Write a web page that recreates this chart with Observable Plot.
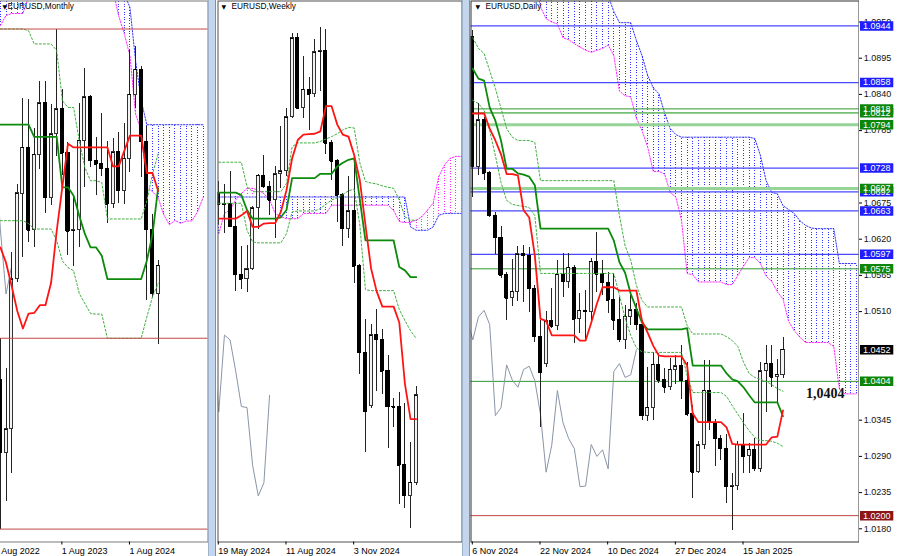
<!DOCTYPE html>
<html><head><meta charset="utf-8">
<script src="https://cdn.jsdelivr.net/npm/d3@7"></script>
<script src="https://cdn.jsdelivr.net/npm/@observablehq/plot@0.6"></script>
<style>
html,body{margin:0;padding:0;background:#fff;}
#chart{position:relative;width:900px;height:556px;overflow:hidden;background:#fff;}
.sep{position:absolute;top:0;height:556px;background:#c3d6ee;box-sizing:border-box;border-left:1px solid #9fb3cc;border-right:1px solid #7f8fa6;}
</style></head><body><div id="chart"></div>
<script>
// ---------------- MONTHLY (Sep 2022 .. Jan 2025) ----------------
const monthlyOpen  = [1.0054,0.9801,0.9883,1.0405,1.0702,1.0862,1.0576,1.0839,1.1018,1.0689,1.0909,1.0997,1.0843,1.0573,1.0575,1.0888,1.1039,1.0818,1.0805,1.0790,1.0666,1.0848,1.0713,1.0825,1.1047,1.1135,1.0884,1.0577,1.0354];
const monthlyHigh  = [1.0198,1.0094,1.0497,1.0736,1.1033,1.1032,1.0930,1.1095,1.1092,1.1012,1.1276,1.1065,1.0882,1.0695,1.1017,1.1140,1.1046,1.0898,1.0981,1.0885,1.0895,1.0916,1.0948,1.1202,1.1214,1.1144,1.0937,1.0630,1.0471];
const monthlyLow   = [0.9536,0.9632,0.9730,1.0393,1.0482,1.0533,1.0516,1.0788,1.0635,1.0662,1.0834,1.0766,1.0488,1.0448,1.0517,1.0723,1.0795,1.0695,1.0762,1.0601,1.0650,1.0668,1.0666,1.0778,1.1001,1.0761,1.0333,1.0343,1.0178];
const monthlyClose = [0.9802,0.9884,1.0405,1.0705,1.0863,1.0576,1.0839,1.1018,1.0689,1.0909,1.0997,1.0843,1.0573,1.0575,1.0888,1.1039,1.0818,1.0805,1.0790,1.0666,1.0848,1.0713,1.0825,1.1047,1.1135,1.0884,1.0577,1.0354,1.0452];
const monthlyTenkan = [1.0516,1.0463,1.0382,1.0295,1.0234,1.0286,1.0288,1.0315,1.0315,1.0393,1.0574,1.0727,1.0877,1.0864,1.0864,1.0864,1.0864,1.0864,1.0864,1.0864,1.0798,1.0798,1.0852,1.0905,1.0905,1.0905,1.0775,1.0775,1.0713];
const monthlyKijun  = [1.0943,1.0943,1.0943,1.0943,1.0943,1.0943,1.0901,1.0901,1.0901,1.0901,1.0901,1.0725,1.0725,1.0696,1.0626,1.0563,1.0516,1.0516,1.0487,1.0406,1.0406,1.0406,1.0406,1.0406,1.0406,1.0406,1.0470,1.0560,1.0722];
const monthlyUpper  = [1.1276,1.1276,1.1276,1.1276,1.1276,1.1270,1.1224,1.1224,1.1224,1.1224,1.1201,1.1027,1.1003,1.1003,1.0887,1.0794,1.0748,1.0748,1.0742,1.0615,1.0615,1.0615,1.0615,1.0615,1.0615,1.0615,1.0678,1.0771,1.0841];
const monthlyLower  = [1.0609,1.0609,1.0609,1.0609,1.0609,1.0599,1.0580,1.0580,1.0580,1.0580,1.0539,1.0469,1.0446,1.0435,1.0356,1.0321,1.0286,1.0284,1.0284,1.0200,1.0200,1.0200,1.0200,1.0200,1.0200,1.0200,1.0274,1.0344,1.0390];
const monthlySpanA  = [1.1288,1.1323,1.1330,1.1330,1.1330,1.1390,1.1450,1.1450,1.1450,1.1450,1.1450,1.1450,1.1450,1.1450,1.1450,1.1450,1.1450,1.1450,1.1450,1.1450,1.1410,1.1322,1.1259,1.1183,1.0980,1.0922,1.0727,1.0710,1.0690,1.0630,1.0595,1.0610,1.0600,1.0608,1.0608,1.0640,1.0690];
const monthlySpanB  = [1.1500,1.1500,1.1500,1.1500,1.1500,1.1500,1.1500,1.1500,1.1500,1.1500,1.1500,1.1500,1.1500,1.1500,1.1500,1.1500,1.1500,1.1500,1.1500,1.1500,1.1500,1.1500,1.1398,1.1351,1.1166,1.1027,1.0943,1.0943,1.0943,1.0943,1.0943,1.0943,1.0943,1.0943,1.0943,1.0943,1.0943];
const monthlyLevels = [1.1276,1.0200,0.9536];
const monthlyTicks = [-1,11,23];
const monthlyTickLabels = ["1 Aug 2022","1 Aug 2023","1 Aug 2024"];

// ---------------- WEEKLY (19 May 2024 .. 19 Jan 2025) ----------------
const weeklyOpen  = [1.0871,1.0847,1.0848,1.0801,1.0702,1.0693,1.0713,1.0840,1.0907,1.0884,1.0856,1.0910,1.0916,1.1028,1.1192,1.1047,1.1085,1.1076,1.1163,1.1165,1.0974,1.0937,1.0867,1.0797,1.0833,1.0720,1.0540,1.0430,1.0577,1.0567,1.0502,1.0429,1.0427,1.0307,1.0244,1.0271];
const weeklyHigh  = [1.0895,1.0889,1.0916,1.0852,1.0761,1.0762,1.0844,1.0910,1.0948,1.0895,1.0926,1.1009,1.1047,1.1201,1.1202,1.1155,1.1111,1.1189,1.1214,1.1209,1.0979,1.0940,1.0870,1.0905,1.0937,1.0723,1.0609,1.0599,1.0630,1.0588,1.0534,1.0446,1.0458,1.0436,1.0355,1.0471];
const weeklyLow   = [1.0805,1.0788,1.0800,1.0668,1.0672,1.0666,1.0710,1.0795,1.0880,1.0825,1.0778,1.0881,1.0906,1.1026,1.1044,1.1026,1.1001,1.1069,1.1082,1.0951,1.0897,1.0811,1.0761,1.0777,1.0683,1.0496,1.0334,1.0425,1.0461,1.0453,1.0343,1.0385,1.0226,1.0218,1.0177,1.0266];
const weeklyClose = [1.0847,1.0848,1.0801,1.0702,1.0693,1.0713,1.0840,1.0907,1.0884,1.0856,1.0910,1.0916,1.1028,1.1192,1.1047,1.1085,1.1076,1.1163,1.1165,1.0974,1.0937,1.0867,1.0797,1.0833,1.0720,1.0540,1.0418,1.0577,1.0567,1.0502,1.0429,1.0427,1.0307,1.0244,1.0271,1.0452];
const weeklyTenkan = [1.0818,1.0818,1.0818,1.0818,1.0825,1.0834,1.0801,1.0801,1.0808,1.0809,1.0809,1.0832,1.0877,1.0943,1.0981,1.0992,1.0993,1.0994,1.0999,1.1051,1.1051,1.1013,1.0992,1.0988,1.0950,1.0898,1.0805,1.0715,1.0667,1.0636,1.0636,1.0636,1.0603,1.0476,1.0403,1.0403];
const weeklyKijun  = [1.0872,1.0872,1.0872,1.0872,1.0867,1.0836,1.0818,1.0818,1.0818,1.0818,1.0818,1.0821,1.0836,1.0902,1.0902,1.0902,1.0902,1.0902,1.0911,1.0911,1.0911,1.0926,1.0934,1.0940,1.0943,1.0858,1.0773,1.0773,1.0773,1.0773,1.0773,1.0773,1.0718,1.0711,1.0697,1.0697];
const weeklyUpper  = [1.0935,1.0935,1.0935,1.0935,1.0935,1.0884,1.0874,1.0874,1.0874,1.0874,1.0874,1.0874,1.0891,1.0967,1.0975,1.0975,1.0975,1.0975,1.0978,1.0983,1.0988,1.0994,1.1002,1.1007,1.1006,1.0934,1.0895,1.0892,1.0890,1.0886,1.0883,1.0881,1.0857,1.0822,1.0815,1.0815];
const weeklyLower  = [1.0850,1.0850,1.0850,1.0850,1.0850,1.0794,1.0770,1.0768,1.0768,1.0768,1.0768,1.0768,1.0787,1.0832,1.0834,1.0834,1.0834,1.0834,1.0839,1.0848,1.0857,1.0861,1.0868,1.0876,1.0879,1.0805,1.0671,1.0669,1.0669,1.0669,1.0669,1.0669,1.0630,1.0607,1.0586,1.0570];
const weeklySpanA  = [1.0787,1.0829,1.0836,1.0857,1.0870,1.0881,1.0881,1.0877,1.0870,1.0857,1.0829,1.0822,1.0818,1.0818,1.0818,1.0829,1.0829,1.0829,1.0829,1.0829,1.0846,1.0846,1.0846,1.0846,1.0846,1.0846,1.0846,1.0846,1.0846,1.0846,1.0846,1.0835,1.0812,1.0810,1.0811,1.0815,1.0822,1.0836,1.0850,1.0905,1.0929,1.0943,1.0947,1.0947];
const weeklySpanB  = [1.0863,1.0863,1.0863,1.0863,1.0863,1.0863,1.0863,1.0863,1.0863,1.0863,1.0863,1.0863,1.0863,1.0863,1.0863,1.0863,1.0863,1.0863,1.0863,1.0863,1.0863,1.0863,1.0863,1.0863,1.0863,1.0863,1.0863,1.0863,1.0863,1.0863,1.0863,1.0863,1.0863,1.0863,1.0801,1.0794,1.0794,1.0794,1.0801,1.0825,1.0829,1.0829,1.0829,1.0829];
const weeklyTicks = [0,12,24];
const weeklyTickLabels = ["19 May 2024","11 Aug 2024","3 Nov 2024"];

// ---------------- DAILY (6 Nov 2024 .. 24 Jan 2025) ----------------
const dailyOpen  = [1.0927,1.0730,1.0801,1.0720,1.0656,1.0622,1.0565,1.0530,1.0540,1.0597,1.0595,1.0545,1.0472,1.0430,1.0495,1.0488,1.0566,1.0555,1.0577,1.0498,1.0511,1.0510,1.0586,1.0567,1.0554,1.0527,1.0497,1.0467,1.0502,1.0512,1.0490,1.0352,1.0364,1.0429,1.0406,1.0395,1.0422,1.0427,1.0405,1.0354,1.0266,1.0307,1.0390,1.0341,1.0317,1.0302,1.0244,1.0245,1.0308,1.0290,1.0300,1.0271,1.0419,1.0431,1.0410,1.0414];
const dailyHigh  = [1.0937,1.0826,1.0805,1.0723,1.0660,1.0640,1.0569,1.0589,1.0609,1.0610,1.0608,1.0550,1.0497,1.0510,1.0545,1.0588,1.0599,1.0598,1.0580,1.0537,1.0542,1.0590,1.0630,1.0588,1.0570,1.0568,1.0532,1.0519,1.0534,1.0522,1.0496,1.0425,1.0448,1.0446,1.0423,1.0438,1.0444,1.0458,1.0433,1.0367,1.0312,1.0436,1.0436,1.0346,1.0322,1.0324,1.0264,1.0313,1.0355,1.0310,1.0317,1.0433,1.0458,1.0458,1.0437,1.0471];
const dailyLow   = [1.0683,1.0717,1.0709,1.0653,1.0596,1.0560,1.0496,1.0517,1.0525,1.0524,1.0509,1.0463,1.0334,1.0425,1.0484,1.0481,1.0532,1.0545,1.0461,1.0476,1.0466,1.0497,1.0539,1.0534,1.0507,1.0481,1.0463,1.0453,1.0489,1.0481,1.0344,1.0343,1.0344,1.0401,1.0385,1.0390,1.0400,1.0377,1.0350,1.0226,1.0264,1.0300,1.0329,1.0274,1.0284,1.0218,1.0177,1.0238,1.0264,1.0264,1.0267,1.0266,1.0357,1.0394,1.0372,1.0408];
const dailyClose = [1.0730,1.0801,1.0720,1.0656,1.0622,1.0565,1.0530,1.0540,1.0597,1.0595,1.0545,1.0472,1.0418,1.0495,1.0488,1.0566,1.0555,1.0577,1.0498,1.0511,1.0510,1.0586,1.0567,1.0554,1.0527,1.0497,1.0467,1.0502,1.0512,1.0490,1.0352,1.0364,1.0429,1.0406,1.0395,1.0422,1.0427,1.0405,1.0354,1.0266,1.0307,1.0390,1.0341,1.0317,1.0302,1.0244,1.0245,1.0308,1.0290,1.0300,1.0271,1.0419,1.0431,1.0410,1.0414,1.0452];
const dailyTenkan = [1.0811,1.0811,1.0811,1.0788,1.0770,1.0749,1.0719,1.0719,1.0717,1.0664,1.0653,1.0595,1.0499,1.0496,1.0474,1.0474,1.0474,1.0474,1.0474,1.0466,1.0466,1.0493,1.0522,1.0547,1.0547,1.0547,1.0542,1.0542,1.0542,1.0542,1.0496,1.0478,1.0458,1.0443,1.0442,1.0442,1.0442,1.0442,1.0428,1.0355,1.0342,1.0342,1.0342,1.0342,1.0342,1.0334,1.0309,1.0308,1.0308,1.0308,1.0308,1.0308,1.0308,1.0319,1.0320,1.0360];
const dailyKijun  = [1.0879,1.0864,1.0861,1.0820,1.0800,1.0770,1.0727,1.0727,1.0720,1.0718,1.0715,1.0702,1.0636,1.0636,1.0636,1.0636,1.0636,1.0636,1.0636,1.0636,1.0636,1.0636,1.0636,1.0636,1.0636,1.0618,1.0585,1.0569,1.0537,1.0515,1.0493,1.0483,1.0483,1.0483,1.0483,1.0483,1.0483,1.0483,1.0485,1.0428,1.0428,1.0428,1.0428,1.0428,1.0428,1.0416,1.0407,1.0404,1.0395,1.0383,1.0372,1.0372,1.0372,1.0372,1.0372,1.0351];
const dailyUpper  = [1.0926,1.0910,1.0902,1.0876,1.0849,1.0819,1.0788,1.0775,1.0770,1.0770,1.0770,1.0767,1.0709,1.0709,1.0709,1.0709,1.0709,1.0709,1.0709,1.0709,1.0709,1.0709,1.0709,1.0709,1.0709,1.0709,1.0656,1.0610,1.0588,1.0550,1.0527,1.0517,1.0517,1.0517,1.0517,1.0517,1.0517,1.0517,1.0489,1.0476,1.0476,1.0476,1.0476,1.0476,1.0476,1.0472,1.0466,1.0457,1.0433,1.0416,1.0410,1.0407,1.0404,1.0399,1.0393,1.0389];
const dailyLower  = [1.0831,1.0826,1.0816,1.0785,1.0747,1.0706,1.0679,1.0673,1.0671,1.0670,1.0668,1.0656,1.0568,1.0568,1.0568,1.0568,1.0568,1.0568,1.0568,1.0568,1.0568,1.0568,1.0568,1.0568,1.0568,1.0568,1.0535,1.0500,1.0474,1.0455,1.0449,1.0448,1.0448,1.0448,1.0448,1.0448,1.0448,1.0448,1.0413,1.0387,1.0387,1.0387,1.0387,1.0387,1.0387,1.0381,1.0367,1.0354,1.0341,1.0329,1.0319,1.0314,1.0314,1.0313,1.0310,1.0305];
const dailySpanA  = [1.1010,1.1010,1.1010,1.1010,1.1010,1.1010,1.1010,1.1010,1.1010,1.1010,1.1010,1.1010,1.0973,1.0955,1.0950,1.0947,1.0926,1.0923,1.0917,1.0912,1.0907,1.0904,1.0907,1.0910,1.0915,1.0899,1.0845,1.0838,1.0836,1.0804,1.0785,1.0760,1.0723,1.0723,1.0719,1.0691,1.0684,1.0649,1.0568,1.0566,1.0555,1.0555,1.0555,1.0555,1.0555,1.0551,1.0551,1.0565,1.0579,1.0592,1.0592,1.0583,1.0564,1.0556,1.0540,1.0529,1.0495,1.0481,1.0471,1.0463,1.0463,1.0463,1.0463,1.0463,1.0457,1.0392,1.0385,1.0385,1.0385];
const dailySpanB  = [1.1050,1.1050,1.1050,1.1050,1.1050,1.1050,1.1050,1.1050,1.1050,1.1050,1.1050,1.1050,1.0990,1.0990,1.0990,1.0990,1.0990,1.0990,1.0990,1.0990,1.0990,1.0990,1.0990,1.0990,1.0990,1.0966,1.0949,1.0949,1.0949,1.0922,1.0899,1.0869,1.0850,1.0841,1.0812,1.0788,1.0779,1.0775,1.0775,1.0775,1.0775,1.0775,1.0775,1.0775,1.0775,1.0775,1.0775,1.0775,1.0775,1.0775,1.0773,1.0747,1.0709,1.0691,1.0689,1.0671,1.0665,1.0659,1.0648,1.0641,1.0637,1.0636,1.0636,1.0636,1.0636,1.0583,1.0583,1.0583,1.0583];
const dailyTicks = [0,12,24,36,48];
const dailyTickLabels = ["6 Nov 2024","22 Nov 2024","10 Dec 2024","27 Dec 2024","15 Jan 2025"];
const dailyLevels = [1.0944,1.0858,1.0818,1.0812,1.0794,1.0728,1.0697,1.0692,1.0663,1.0597,1.0575,1.0404,1.0200];
const dailyLevelKinds = ["blue","blue","green","midgreen","lightgreen","blue","lightgreen","blue","blue","blue","green","green","red"];
const priceLabels = [1.0944,1.0858,1.0818,1.0812,1.0794,1.0728,1.0692,1.0697,1.0663,1.0597,1.0575,1.0452,1.0404,1.0200];
const priceLabelKinds = ["blue","blue","green","green","green","blue","blue","green","blue","blue","green","last","green","red"];
// axis ticks whose labels are not hidden under a price box
const priceTicks = [1.0180,1.0235,1.0290,1.0345,1.0510,1.0565,1.0620,1.0675,1.0785,1.0840,1.0895,1.0950];
const annotation = {text: "1,0404", value: 1.0386, bar: 62.5};

// ---------------- drawing ----------------
const FONT = "'Liberation Sans', Arial, sans-serif";
const BLUE = "#3434ff", MAGENTA = "#ff2cff";
const chart = document.getElementById("chart");

function candles(O,H,L,C){ return O.map((o,i)=>({i, o, h:H[i], l:L[i], c:C[i]})); }
function series(a){ return a.map((v,i)=>({i, v})); }

function ichimoku(cfg){
  const cl = cfg.spanA.map((a,i)=>({i, a, b: cfg.spanB[i]}));
  const cd = candles(cfg.O,cfg.H,cfg.L,cfg.C);
  const up = cd.filter(d=>d.c>=d.o), dn = cd.filter(d=>d.c<d.o);
  const chik = cfg.C.map((c,i)=>({x:i-26, y:c})).filter(d=>d.x>=-1);
  const hw = 0.27;
  const crisp = {shapeRendering:"crispEdges", clip:true};
  return {
    back: [
      Plot.ruleX(cl.filter(d=>d.b>=d.a), {x:"i", y1:"a", y2:"b", stroke:BLUE, strokeWidth:1, strokeDasharray:"1,1.6", ...crisp}),
      Plot.ruleX(cl.filter(d=>d.a>d.b), {x:"i", y1:"a", y2:"b", stroke:MAGENTA, strokeWidth:1, strokeDasharray:"1,1.6", ...crisp}),
      Plot.line(cl, {x:"i", y:"b", stroke:BLUE, strokeWidth:1, strokeDasharray:"1.5,1.5", clip:true}),
      Plot.line(cl, {x:"i", y:"a", stroke:MAGENTA, strokeWidth:1, strokeDasharray:"1.5,1.5", clip:true})
    ],
    candles: [
      Plot.line(chik, {x:"x", y:"y", stroke:"#8a95a8", strokeWidth:1, clip:true}),
      Plot.ruleX(cd, {x:"i", y1:"l", y2:"h", stroke:"#222", strokeWidth:1, ...crisp}),
      Plot.rect(up, {x1:d=>d.i-hw, x2:d=>d.i+hw, y1:"o", y2:"c", fill:"#f2f2f2", stroke:"#333", strokeWidth:1, ...crisp}),
      Plot.rect(dn, {x1:d=>d.i-hw, x2:d=>d.i+hw, y1:"o", y2:"c", fill:"#000", stroke:"#000", strokeWidth:1, ...crisp}),
      Plot.ruleY(cd, {x1:d=>d.i-hw, x2:d=>d.i+hw, y:"c", stroke:"#000", strokeWidth:1, ...crisp})
    ],
    lines: [
      Plot.line(series(cfg.upper), {x:"i", y:"v", stroke:"#3faf3f", strokeWidth:1, strokeDasharray:"2,2", clip:true}),
      Plot.line(series(cfg.lower), {x:"i", y:"v", stroke:"#3faf3f", strokeWidth:1, strokeDasharray:"2,2", clip:true}),
      Plot.line(series(cfg.kijun), {x:"i", y:"v", stroke:"#0b8a0b", strokeWidth:1.8, clip:true}),
      Plot.line(series(cfg.tenkan), {x:"i", y:"v", stroke:"#ff1414", strokeWidth:1.8, clip:true})
    ]
  };
}

function titleMarks(name, triDx, textDx){
  return [
    Plot.text(["\u25BC"], {text:d=>d, frameAnchor:"top-left", dx:triDx, dy:4, textAnchor:"start", lineAnchor:"top", fontSize:6, fontFamily:"'DejaVu Sans', sans-serif", fill:"#000"}),
    Plot.text([name], {text:d=>d, frameAnchor:"top-left", dx:textDx, dy:2.5, textAnchor:"start", lineAnchor:"top", fontSize:8.3, fill:"#000"})
  ];
}
function dateAxis(ticks, labels){
  return Plot.axisX({ticks, tickFormat:d=>labels[ticks.indexOf(d)], textAnchor:"start", tickSize:3, tickPadding:3, dx:-0.5, label:null, fontSize:9, stroke:"#000"});
}
function place(svg, left, width){
  const d = document.createElement("div");
  d.style.cssText = `position:absolute;left:${left}px;top:0;width:${width}px;height:556px;`;
  svg.style.maxWidth = "none";
  d.append(svg); chart.append(d);
}
const baseStyle = {fontFamily:FONT, fontSize:"9px", background:"transparent", overflow:"hidden", color:"#000"};

// Monthly
{
  const m = ichimoku({O:monthlyOpen,H:monthlyHigh,L:monthlyLow,C:monthlyClose,tenkan:monthlyTenkan,kijun:monthlyKijun,upper:monthlyUpper,lower:monthlyLower,spanA:monthlySpanA,spanB:monthlySpanB});
  const svg = Plot.plot({
    width:211, height:556, marginLeft:1.5, marginRight:0.5, marginTop:0.5, marginBottom:14.5,
    x:{type:"linear", domain:[0,28], range:[2.9,160.6]},
    y:{type:"linear", domain:[0.9536,1.1276], range:[528.6,28.5], axis:null},
    style:baseStyle,
    marks:[...m.back, ...m.candles, ...m.lines,
      Plot.ruleY(monthlyLevels, {y:d=>d, stroke:"#c24a4a", strokeWidth:1}),
      Plot.frame({stroke:"#7a7a7a"}),
      dateAxis(monthlyTicks, monthlyTickLabels),
      ...titleMarks("EURUSD,Monthly", 3.5, 8.5)]
  });
  place(svg, -3, 211);
}
// Weekly
{
  const m = ichimoku({O:weeklyOpen,H:weeklyHigh,L:weeklyLow,C:weeklyClose,tenkan:weeklyTenkan,kijun:weeklyKijun,upper:weeklyUpper,lower:weeklyLower,spanA:weeklySpanA,spanB:weeklySpanB});
  const svg = Plot.plot({
    width:247, height:556, marginLeft:1.5, marginRight:1.5, marginTop:0.5, marginBottom:14.5,
    x:{type:"linear", domain:[0,35], range:[2.3,199.7]},
    y:{type:"linear", domain:[1.0177,1.1201], range:[527.7,33.3], axis:null},
    style:baseStyle,
    marks:[...m.back, ...m.candles, ...m.lines,
      Plot.frame({stroke:"#505050"}),
      dateAxis(weeklyTicks, weeklyTickLabels),
      ...titleMarks("EURUSD,Weekly", 3.5, 13.5)]
  });
  place(svg, 216, 247);
}
// Daily
const levelStyle = {
  blue:{stroke:"#4848ff", w:1.2}, green:{stroke:"#2c982c", w:1}, midgreen:{stroke:"#74c074", w:1.6},
  lightgreen:{stroke:"#97d497", w:3}, red:{stroke:"#c24444", w:1}
};
{
  const m = ichimoku({O:dailyOpen,H:dailyHigh,L:dailyLow,C:dailyClose,tenkan:dailyTenkan,kijun:dailyKijun,upper:dailyUpper,lower:dailyLower,spanA:dailySpanA,spanB:dailySpanB});
  const lv = dailyLevels.map((v,k)=>({v, kind:dailyLevelKinds[k]}));
  const levelMarks = Object.keys(levelStyle).map(kind =>
    Plot.ruleY(lv.filter(d=>d.kind===kind), {y:"v", stroke:levelStyle[kind].stroke, strokeWidth:levelStyle[kind].w}));
  const svg = Plot.plot({
    width:390, height:556, marginLeft:1.5, marginRight:0.5, marginTop:0.5, marginBottom:14.5,
    x:{type:"linear", domain:[0,55], range:[3.3,313.5]},
    y:{type:"linear", domain:[1.0180,1.0895], range:[528.3,57.7], axis:null},
    style:baseStyle,
    marks:[...m.back, ...levelMarks, ...m.candles, ...m.lines,
      Plot.text([annotation], {x:"bar", y:"value", text:"text", fontFamily:"'Liberation Serif', 'Times New Roman', serif", fontWeight:"bold", fontSize:14, fill:"#111", textAnchor:"middle"}),
      Plot.frame({stroke:"#303030"}),
      dateAxis(dailyTicks, dailyTickLabels),
      ...titleMarks("EURUSD,Daily", 4.5, 14.5)]
  });
  place(svg, 469, 390);
}
// Price axis of the daily panel
{
  const boxColor = {blue:"#1e1eff", green:"#0b860b", last:"#000000", red:"#8a1616"};
  const boxes = priceLabels.map((v,k)=>({v, color:boxColor[priceLabelKinds[k]]}));
  const svg = Plot.plot({
    width:41, height:556, marginLeft:0, marginRight:0, marginTop:0, marginBottom:0,
    x:{type:"linear", domain:[0,41], range:[0,41], axis:null},
    y:{type:"linear", domain:[1.0180,1.0895], range:[528.3,57.7], axis:null},
    style:baseStyle,
    marks:[
      Plot.ruleY(priceTicks, {y:d=>d, x1:0, x2:3, stroke:"#000"}),
      Plot.text(priceTicks, {y:d=>d, x:4.3, text:d=>d.toFixed(4), textAnchor:"start", fill:"#111", fontSize:9}),
      ...boxes.map(b => Plot.ruleY([b], {y:"v", x1:1, x2:34.3, stroke:b.color, strokeWidth:9.5})),
      ...boxes.map(b => Plot.text([b], {y:"v", x:3.6, text:d=>d.v.toFixed(4), textAnchor:"start", fill:"#fff", fontSize:9}))
    ]
  });
  place(svg, 859, 41);
}
// window separators
[[208,8],[462,8]].forEach(([l,w])=>{ const s=document.createElement("div"); s.className="sep"; s.style.left=l+"px"; s.style.width=w+"px"; chart.append(s); });
</script></body></html>
